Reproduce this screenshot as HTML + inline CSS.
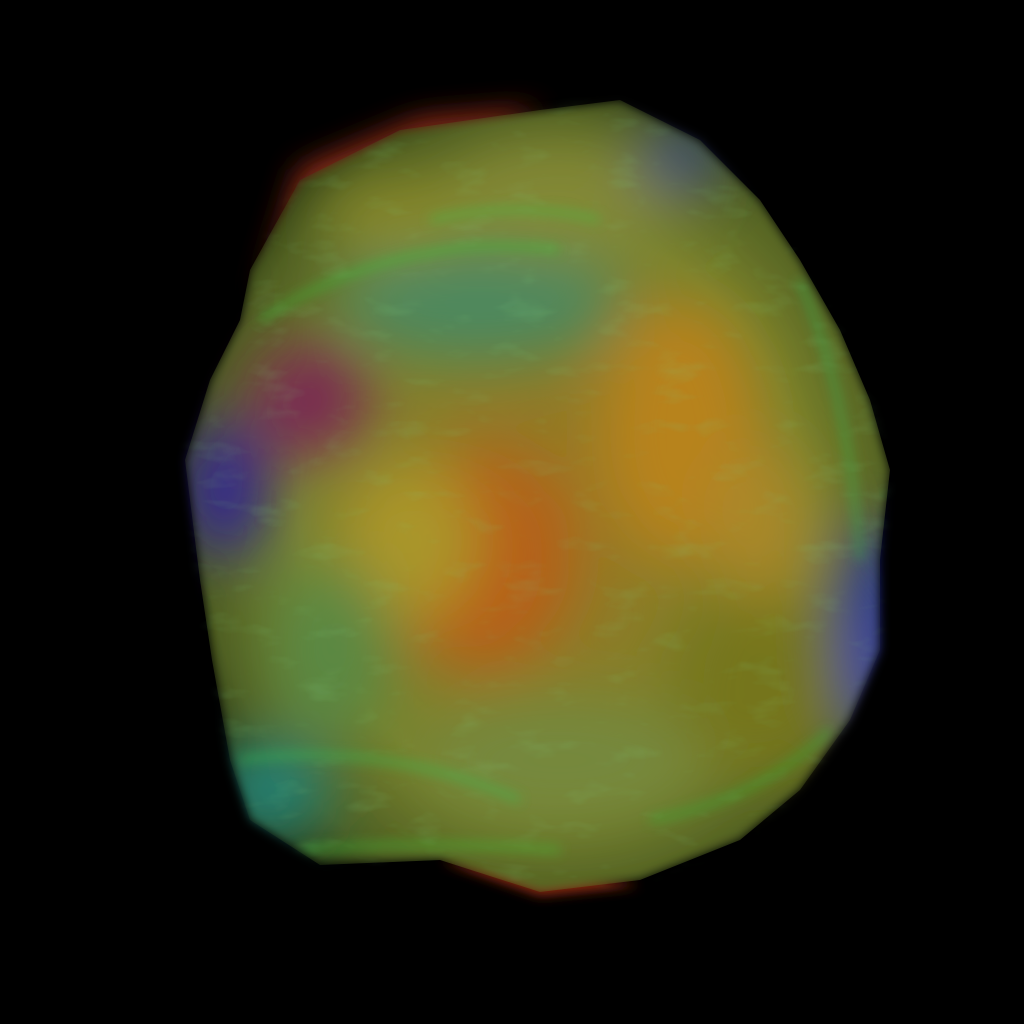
<!DOCTYPE html>
<html>
<head>
<meta charset="utf-8">
<style>
html,body{margin:0;padding:0;background:#000;width:1024px;height:1024px;overflow:hidden;}
svg{display:block;}
</style>
</head>
<body>
<svg width="1024" height="1024" viewBox="0 0 1024 1024">
<defs>
<filter id="b30" x="-50%" y="-50%" width="200%" height="200%"><feGaussianBlur stdDeviation="30"/></filter>
<filter id="b15" x="-50%" y="-50%" width="200%" height="200%"><feGaussianBlur stdDeviation="15"/></filter>
<filter id="b6" x="-50%" y="-50%" width="200%" height="200%"><feGaussianBlur stdDeviation="6"/></filter>
<filter id="b4" x="-20%" y="-20%" width="140%" height="140%"><feGaussianBlur stdDeviation="5"/></filter>
<filter id="tex" x="0" y="0" width="100%" height="100%">
<feTurbulence type="fractalNoise" baseFrequency="0.02 0.05" numOctaves="3" seed="4"/>
<feColorMatrix type="matrix" values="0 0 0 0 0.3  0 0 0 0 0.9  0 0 0 0 0.3  0 0 0 3 -1.7"/>
</filter>
<path id="shape" d="M540,110 L620,100 L700,140 L760,200 L800,260 L840,330 L870,400 L890,470 L880,560 L880,650 L850,720 L800,790 L740,840 L640,880 L540,892 L440,860 L320,865 L250,820 L230,760 L212,660 L200,580 L185,460 L210,380 L240,320 L250,270 L300,180 L400,130 Z"/>
<mask id="m"><use href="#shape" fill="#fff" filter="url(#b4)"/></mask>
<radialGradient id="base" cx="0.52" cy="0.52" r="0.55">
<stop offset="0" stop-color="#b88a2a"/><stop offset="0.65" stop-color="#8f9a35"/><stop offset="0.9" stop-color="#5e7028"/><stop offset="1" stop-color="#3a4a18"/>
</radialGradient>
</defs>
<rect width="1024" height="1024" fill="#000"/>
<path d="M300,170 L420,120 L540,110 L500,140 L380,170 L300,230 L260,300 Z" fill="#a0301a" filter="url(#b15)"/>
<path d="M440,860 L540,895 L640,885 L560,870 Z" fill="#a03018" filter="url(#b6)"/>
<g mask="url(#m)">
<use href="#shape" fill="url(#base)"/>
<g filter="url(#b30)">
<ellipse cx="480" cy="560" rx="90" ry="110" fill="#d8701e"/>
<ellipse cx="410" cy="540" rx="70" ry="80" fill="#c8b030"/>
<ellipse cx="680" cy="430" rx="80" ry="130" fill="#d89a20"/>
<ellipse cx="760" cy="680" rx="90" ry="100" fill="#8a8a20"/>
<ellipse cx="225" cy="490" rx="40" ry="70" fill="#3a2ab0"/>
<ellipse cx="310" cy="400" rx="60" ry="60" fill="#903060"/>
<ellipse cx="875" cy="630" rx="30" ry="110" fill="#2a3ad0"/>
<ellipse cx="270" cy="790" rx="60" ry="50" fill="#2a9a8a"/>
<ellipse cx="480" cy="300" rx="140" ry="60" fill="#5aa070"/>
<ellipse cx="560" cy="200" rx="120" ry="60" fill="#9aa040"/>
<ellipse cx="680" cy="160" rx="40" ry="30" fill="#3a50a0"/>
<ellipse cx="330" cy="650" rx="60" ry="90" fill="#6aa050"/>
<ellipse cx="560" cy="760" rx="140" ry="60" fill="#8aa048"/>
<ellipse cx="760" cy="520" rx="50" ry="80" fill="#c8a030"/>
<ellipse cx="400" cy="220" rx="80" ry="40" fill="#a0a030"/>
</g>
<rect x="150" y="80" width="760" height="840" filter="url(#tex)" opacity="0.15"/>
<g filter="url(#b6)" fill="none" stroke-width="6" opacity="0.6">
<path d="M260,320 Q400,230 560,250" stroke="#40e040"/>
<path d="M240,760 Q380,740 520,800" stroke="#40e060"/>
<path d="M300,850 Q420,840 560,850" stroke="#50e040"/>
<path d="M650,820 Q760,800 830,730" stroke="#40d040"/>
<path d="M800,280 Q850,400 860,560" stroke="#40d060"/>
<path d="M430,220 Q520,200 600,220" stroke="#50e050"/>
</g>
<rect x="150" y="80" width="760" height="840" fill="#000" opacity="0.15"/>
</g>
</svg>
</body>
</html>
